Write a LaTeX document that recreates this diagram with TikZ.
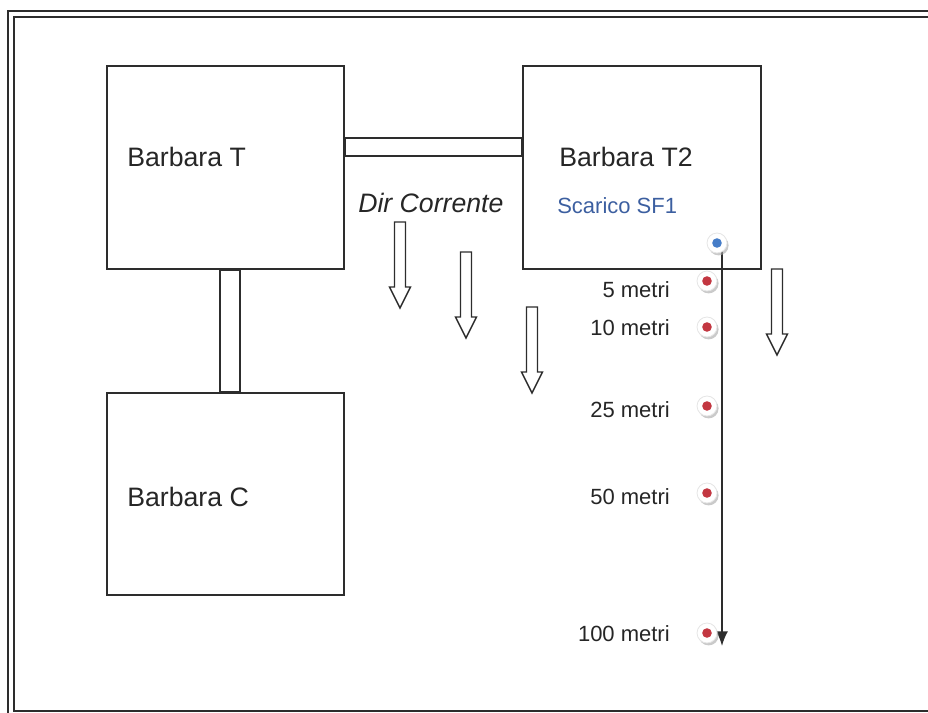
\documentclass[tikz,border=0pt]{standalone}
\usepackage{fontspec}
\setmainfont{Liberation Sans}
\usetikzlibrary{arrows.meta,calc,positioning,shadows}
\definecolor{scaricoblu}{RGB}{60,95,160}
\definecolor{puntoblu}{RGB}{70,125,200}
\definecolor{puntorosso}{RGB}{195,55,65}
\definecolor{linea}{RGB}{45,45,45}

\begin{document}
\begin{tikzpicture}[x=0.75pt, y=-0.75pt,
  sito/.style={draw=linea, line width=1.5pt, minimum width=178pt, minimum height=151.5pt, inner sep=0pt},
  nome/.style={anchor=west, inner sep=0pt, font=\fontsize{20}{24}\selectfont, text=black!85},
  metri/.style={anchor=east, inner sep=0pt, font=\fontsize{16.5}{19}\selectfont, text=black!85},
  sonda/.style={circle, minimum size=15pt, inner sep=0pt, fill=white, draw=gray!20, line width=0.6pt,
    drop shadow={shadow xshift=1.2pt, shadow yshift=-1.8pt, fill=gray!70, opacity=0.6},
    path picture={\fill[#1] (path picture bounding box.center) circle (3.6pt);}},
  corrente/.style={draw=linea, line width=1.1pt, fill=white},
  tubo/.style={draw=linea, line width=1.5pt}]
\useasboundingbox (0,0) rectangle (928,713);
\clip (0,0) rectangle (928,713);
%--- cornice ---
\draw[linea, line width=1.6pt] (8,11) rectangle (950,722);
\draw[linea, line width=1.6pt] (14,17) rectangle (944,711);

%--- piattaforme ---
\node[sito] (bt) at (225.5,167.5) {};
\node[sito] (bt2) at (642,167.5) {};
\node[sito] (bc) at (225.5,494) {};
\node[nome] (btnome) at (127,157) {Barbara T};
\node[nome] (bt2nome) at (559,157) {Barbara T2};
\node[nome] (bcnome) at (127,497) {Barbara C};
\node[anchor=west, inner sep=0pt, font=\fontsize{16.5}{19}\selectfont, text=scaricoblu] (scarico) at (557,206) {Scarico SF1};

% collegamenti
\draw[tubo] ($(bt.north east)+(0,73)$) rectangle ($(bt2.north west)+(0,91)$);
\draw[tubo] ($(bt.south)+(-5.5,0)$) rectangle ($(bc.north)+(14.5,0)$);

%--- direzione corrente ---
\node[anchor=west, inner sep=0pt, font=\fontsize{20}{24}\selectfont\itshape, text=black!85] (dir) at (358,203) {Dir Corrente};
\foreach \x/\y in {400/222, 466/252, 532/307, 777/269}{
  \draw[corrente] (\x-5.5,\y) -- (\x+5.5,\y) -- (\x+5.5,\y+65) -- (\x+10.5,\y+65)
    -- (\x,\y+86) -- (\x-10.5,\y+65) -- (\x-5.5,\y+65) -- cycle;
}

%--- transetto di campionamento ---
\coordinate (inizio) at (722,250);
\coordinate (fine) at (722,646);
\draw[linea, line width=1.3pt, -{Latex[length=11pt,width=9pt]}] (inizio) -- (fine);
\node[sonda=puntoblu] (d0) at (717,243) {};
\foreach \d/\y/\ly in {5/281/290, 10/327/328, 25/406/410, 50/493/497, 100/633/634}{
  \node[sonda=puntorosso] (d\d) at (707,\y) {};
  \node[metri] (m\d) at (670,\ly) {\d\ metri};
}
\end{tikzpicture}
\end{document}
